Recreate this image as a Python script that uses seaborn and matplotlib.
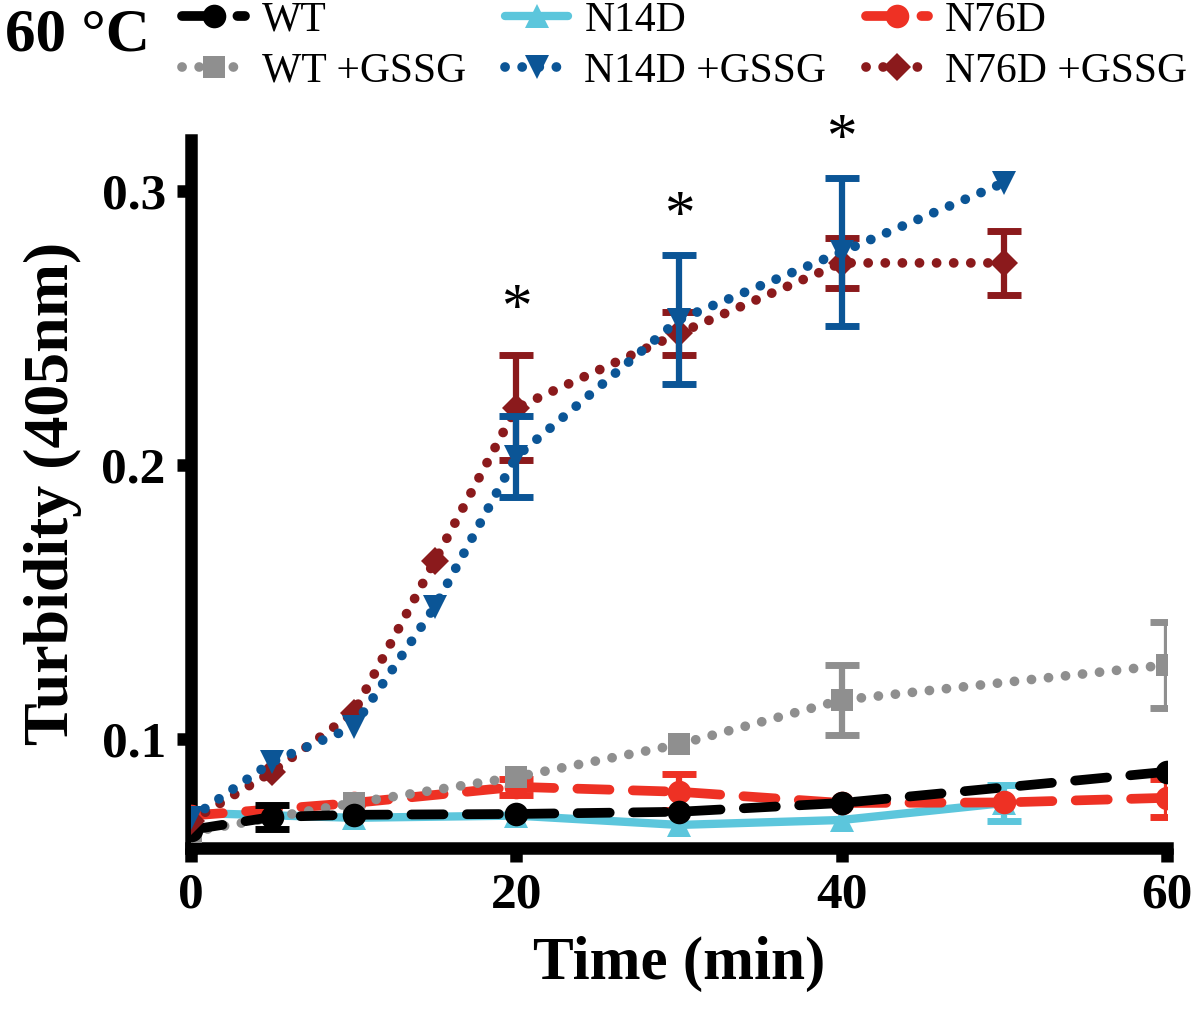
import numpy as np
import matplotlib
matplotlib.use("Agg")
import matplotlib.pyplot as plt
import seaborn as sns

# --- data (time in min, turbidity at 405 nm) ---
wt_t = [0, 5, 10, 20, 30, 40, 60]
wt_y = [0.0668, 0.0715, 0.0723, 0.0726, 0.0734, 0.0766, 0.0880]
wt_err = [0, 0.0045, 0, 0, 0, 0, 0]

wtg_t = [0, 10, 20, 30, 40, 60]
wtg_y = [0.0660, 0.0766, 0.0861, 0.0980, 0.1142, 0.1270]
wtg_err = [0, 0, 0, 0, 0.0128, 0.0157]

n14_t = [0, 10, 20, 30, 40, 50]
n14_y = [0.0730, 0.0712, 0.0720, 0.0686, 0.0704, 0.0766]
n14_err = [0, 0, 0, 0, 0, 0.0065]

n14g_t = [0, 5, 10, 15, 20, 30, 40, 50]
n14g_y = [0.0710, 0.0916, 0.1044, 0.1482, 0.2030, 0.2530, 0.2777, 0.3030]
n14g_err = [0, 0, 0, 0, 0.0148, 0.0235, 0.0270, 0]

n76_t = [0, 10, 20, 30, 40, 50, 60]
n76_y = [0.0720, 0.0766, 0.0825, 0.0807, 0.0766, 0.0768, 0.0785]
n76_err = [0, 0, 0.0030, 0.0065, 0, 0, 0.0070]

n76g_t = [0, 5, 10, 15, 20, 30, 40, 50]
n76g_y = [0.0700, 0.0880, 0.1095, 0.1650, 0.2208, 0.2480, 0.2737, 0.2737]
n76g_err = [0, 0, 0, 0, 0.0192, 0.0078, 0.0091, 0.0117]

star_t = [20, 30, 40]
star_y = [0.2566, 0.2905, 0.3186]

x_ticks = [0, 20, 40, 60]
y_ticks = [0.1, 0.2, 0.3]

sns.set_theme(style="ticks")
plt.rcParams["font.family"] = ["Liberation Serif", "DejaVu Serif"]
for k in ["text.color", "axes.edgecolor", "axes.labelcolor",
          "xtick.color", "ytick.color"]:
    plt.rcParams[k] = "black"

dots = (0, (0.01, 1.75))
dash = (0, (3.3, 2.4))

series = [
    # label, t, y, err, color, marker, markersize, linestyle, linewidth, zorder
    ("N14D", n14_t, n14_y, n14_err, "#5cc6dc", "^", 17, "-", 6, 2),
    ("N76D", n76_t, n76_y, n76_err, "#ee3124", "o", 17, dash, 7, 3),
    ("WT +GSSG", wtg_t, wtg_y, wtg_err, "#8f8f8f", "s", 16, dots, 7, 4),
    ("WT", wt_t, wt_y, wt_err, "#000000", "o", 17, dash, 7, 5),
    ("N76D +GSSG", n76g_t, n76g_y, n76g_err, "#8b1a1c", "D", 14, dots, 7, 6),
    ("N14D +GSSG", n14g_t, n14g_y, n14g_err, "#0b5596", "v", 17, dots, 7, 7),
]

fig = plt.figure(figsize=(12, 10.21), dpi=100)
ax = fig.add_axes([0.159, 0.1695, 0.8135, 0.6935])

handles = {}
for label, t, y, err, color, marker, ms, ls, lw, z in series:
    sns.lineplot(x=t, y=y, ax=ax, color=color, marker=marker, markersize=ms,
                 markeredgecolor=color, markeredgewidth=0, linewidth=lw,
                 linestyle=ls, dash_capstyle="round", label=label, zorder=z,
                 legend=False)
    handles[label] = ax.lines[-1]
    t_arr, y_arr, e_arr = np.array(t), np.array(y), np.array(err)
    m = e_arr > 0
    if m.any():
        ax.errorbar(t_arr[m], y_arr[m], yerr=e_arr[m], fmt="none", ecolor=color,
                    elinewidth=4.5, capsize=12, capthick=5, zorder=z)

for t, y in zip(star_t, star_y):
    ax.text(t, y, "*", ha="center", va="center", fontsize=44,
            clip_on=False)

ax.set_xlim(0, 60)
ax.set_ylim(0.0602, 0.3186)
ax.set_xticks(x_ticks)
ax.set_yticks(y_ticks)
ax.set_yticklabels([f"{v:.1f}" for v in y_ticks])
for s in ["top", "right"]:
    ax.spines[s].set_visible(False)
for s in ["left", "bottom"]:
    ax.spines[s].set_linewidth(9)
    ax.spines[s].set_capstyle("projecting")
ax.tick_params(axis="both", direction="out", length=10, width=9,
               labelsize=37, pad=8)
for lab in ax.get_xticklabels() + ax.get_yticklabels():
    lab.set_fontweight("bold")
ax.set_xlabel("Time (min)", fontsize=44, fontweight="bold", labelpad=12)
ax.set_ylabel("Turbidity (405nm)", fontsize=46, fontweight="bold", labelpad=14)

order = ["WT", "WT +GSSG", "N14D", "N14D +GSSG", "N76D", "N76D +GSSG"]
ax.legend([handles[k] for k in order], order, ncol=3, loc="upper left",
          bbox_to_anchor=(0.152, 0.999), bbox_transform=fig.transFigure,
          frameon=False, fontsize=30, handlelength=1.5, handletextpad=0.4,
          columnspacing=0.95, labelspacing=0.3, borderpad=0, borderaxespad=0,
          numpoints=1)

fig.text(0.004, 0.993, "60 °C", fontsize=44, fontweight="bold", va="top")

fig.savefig("out.png", dpi=100)
